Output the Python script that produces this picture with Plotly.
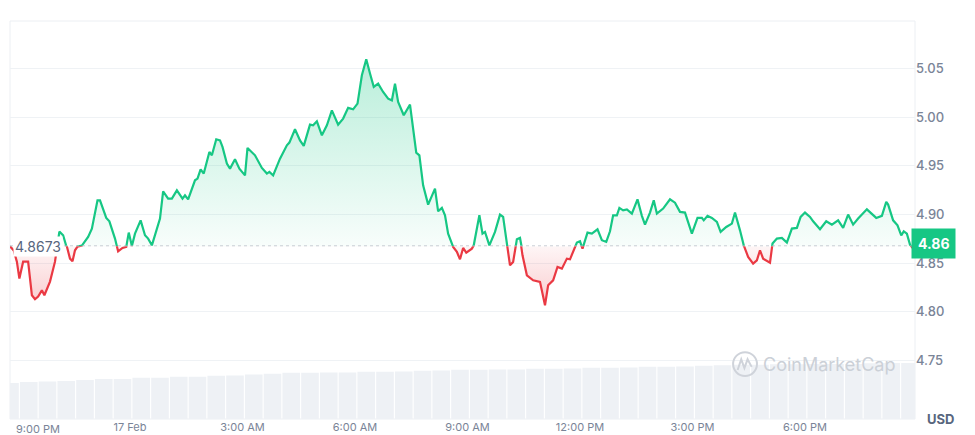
import pandas as pd
import plotly.graph_objects as go

# ---- data ----
START = pd.Timestamp("2025-02-16 20:48")
BASE = 4.8673      # reference (open) price, dotted line
LAST = 4.86        # current price tag

minutes = [0, 6, 11, 15, 21, 29, 35, 40, 45, 51, 55, 64, 72, 76, 79, 85, 91, 96, 100, 104,
           108, 115, 125, 131, 140, 144, 154, 159, 168, 173, 180, 186, 190, 195, 200, 209, 216, 221, 227, 235,
           240, 245, 253, 259, 267, 276, 280, 285, 296, 300, 305, 310, 319, 323, 330, 336, 340, 347, 352, 360,
           367, 376, 380, 392, 403, 411, 415, 421, 432, 443, 447, 456, 464, 470, 480, 485, 491, 499, 507, 515,
           525, 533, 541, 549, 556, 563, 570, 576, 582, 589, 597, 605, 611, 616, 621, 630, 640, 650, 655, 661,
           669, 680, 685, 691, 696, 701, 709, 715, 720, 725, 730, 739, 742, 751, 756, 760, 767, 776, 784, 789,
           795, 800, 805, 811, 816, 820, 827, 837, 848, 856, 861, 869, 876, 883, 891, 896, 907, 912, 916, 924,
           931, 940, 947, 954, 960, 965, 971, 975, 981, 987, 995, 1004, 1011, 1016, 1024, 1030, 1035, 1045, 1056, 1064,
           1072, 1080, 1091, 1100, 1107, 1110, 1116, 1123, 1131, 1137, 1146, 1155, 1160, 1168, 1174, 1181, 1189, 1195, 1200, 1205,
           1216, 1220, 1227, 1235, 1243, 1251, 1259, 1265, 1272, 1280, 1285, 1296, 1306, 1315, 1325, 1333, 1341, 1349, 1357, 1371,
           1379, 1386, 1395, 1402, 1405, 1413, 1420, 1426, 1430, 1435, 1440, 1445]

price = [4.8673, 4.8628, 4.8514, 4.8340, 4.8514, 4.8514, 4.8168, 4.8127, 4.8154, 4.8219,
         4.8168, 4.8309, 4.8514, 4.8700, 4.8823, 4.8785, 4.8669, 4.8545, 4.8518, 4.8631,
         4.8669, 4.8679, 4.8769, 4.8854, 4.9145, 4.9145, 4.8964, 4.8929, 4.8751, 4.8620,
         4.8655, 4.8666, 4.8813, 4.8676, 4.8802, 4.8939, 4.8785, 4.8751, 4.8682, 4.8854,
         4.8957, 4.9238, 4.9163, 4.9163, 4.9248, 4.9163, 4.9197, 4.9155, 4.9351, 4.9368,
         4.9464, 4.9420, 4.9643, 4.9608, 4.9773, 4.9762, 4.9694, 4.9523, 4.9471, 4.9567,
         4.9471, 4.9402, 4.9684, 4.9608, 4.9478, 4.9420, 4.9437, 4.9402, 4.9574, 4.9711,
         4.9739, 4.9876, 4.9762, 4.9705, 4.9924, 4.9917, 4.9958, 4.9814, 4.9917, 5.0071,
         4.9924, 4.9986, 5.0096, 5.0081, 5.0140, 5.0431, 5.0596, 5.0449, 5.0312, 5.0346,
         5.0260, 5.0191, 5.0174, 5.0346, 5.0157, 5.0020, 5.0130, 4.9636, 4.9608, 4.9299,
         4.9101, 4.9265, 4.9032, 4.9067, 4.8991, 4.8802, 4.8666, 4.8614, 4.8538, 4.8655,
         4.8607, 4.8648, 4.8682, 4.8991, 4.8802, 4.8820, 4.8682, 4.8820, 4.8998, 4.8974,
         4.8682, 4.8476, 4.8511, 4.8744, 4.8758, 4.8579, 4.8373, 4.8322, 4.8306, 4.8065,
         4.8271, 4.8322, 4.8460, 4.8442, 4.8545, 4.8538, 4.8710, 4.8723, 4.8648, 4.8813,
         4.8802, 4.8847, 4.8734, 4.8717, 4.8826, 4.8991, 4.8991, 4.9067, 4.9042, 4.9052,
         4.9008, 4.9155, 4.8985, 4.8895, 4.9019, 4.9145, 4.9008, 4.9060, 4.9155, 4.9121,
         4.9026, 4.9019, 4.8802, 4.8964, 4.8964, 4.8939, 4.8985, 4.8964, 4.8923, 4.8820,
         4.8871, 4.8905, 4.9019, 4.8836, 4.8682, 4.8563, 4.8494, 4.8528, 4.8631, 4.8545,
         4.8504, 4.8700, 4.8751, 4.8758, 4.8710, 4.8854, 4.8861, 4.8974, 4.9019, 4.8974,
         4.8929, 4.8847, 4.8929, 4.8895, 4.8939, 4.8861, 4.8998, 4.8895, 4.8957, 4.9052,
         4.9008, 4.8964, 4.8985, 4.9129, 4.9101, 4.8939, 4.8888, 4.8785, 4.8826, 4.8802,
         4.8689, 4.8648]

# volume bars, one every 30 min (USD millions)
vol_minutes = list(range(0, 1441, 30))
volume = [181, 186, 189, 191, 196, 201, 201, 207, 207, 212,
          212, 217, 219, 224, 227, 232, 232, 234, 234, 237,
          237, 239, 242, 244, 247, 247, 249, 249, 252, 252,
          254, 257, 257, 259, 262, 262, 264, 267, 270, 272,
          272, 275, 275, 277, 277, 277, 280, 282, 282]

tick_times = ["2025-02-16 21:00", "2025-02-17 00:00", "2025-02-17 03:00", "2025-02-17 06:00",
              "2025-02-17 09:00", "2025-02-17 12:00", "2025-02-17 15:00", "2025-02-17 18:00"]
tick_text = ["9:00 PM", "17 Feb", "3:00 AM", "6:00 AM", "9:00 AM", "12:00 PM", "3:00 PM", "6:00 PM"]

assert len(minutes) == len(price)
assert len(vol_minutes) == len(volume)

# ---- style ----
GREEN = "#16c784"
RED = "#ea3943"
GRID = "#eff2f5"
LABEL = "#7a8497"
FONT = "Inter, Roboto, sans-serif"

t = START + pd.to_timedelta(minutes, unit="m")
vt = START + pd.to_timedelta(vol_minutes, unit="m")

lo, hi = 4.6895, 5.099
split = (BASE - lo) / (hi - lo)

fig = go.Figure()

fig.add_bar(x=vt, y=volume, yaxis="y2", marker_color="#eef1f5",
            marker_line_width=0, hoverinfo="skip", showlegend=False)

# green half: upper subplot clipped at the baseline
fig.add_scatter(x=t, y=price, yaxis="y", mode="lines", showlegend=False,
                line=dict(color=GREEN, width=2.2), fill="tozeroy",
                fillgradient=dict(type="vertical", start=BASE, stop=5.06,
                                  colorscale=[[0, "rgba(22,199,132,0.03)"],
                                              [1, "rgba(22,199,132,0.30)"]]))

# red half: lower subplot, filled up to the baseline
fig.add_scatter(x=[t[0], t[-1]], y=[BASE, BASE], yaxis="y3", mode="lines",
                line=dict(width=0), hoverinfo="skip", showlegend=False)
fig.add_scatter(x=t, y=price, yaxis="y3", mode="lines", showlegend=False,
                line=dict(color=RED, width=2.2), fill="tonexty",
                fillgradient=dict(type="vertical", start=4.80, stop=BASE,
                                  colorscale=[[0, "rgba(234,57,67,0.28)"],
                                              [1, "rgba(234,57,67,0.05)"]]))

ytick = dict(family=FONT, size=13, color=LABEL, weight=500)
xtick = dict(family=FONT, size=11, color=LABEL)

# page body adds an 8px offset, so the figure is 8px smaller than the window
fig.update_layout(
    width=967, height=427,
    margin=dict(l=2, r=60, t=13, b=16),
    paper_bgcolor="white", plot_bgcolor="rgba(0,0,0,0)",
    font=dict(family=FONT),
    showlegend=False,
    bargap=0.06,
    xaxis=dict(range=[START, START + pd.Timedelta(minutes=1448)], anchor="y3",
               showgrid=False, zeroline=False, showline=False, ticks="",
               tickvals=pd.to_datetime(tick_times[1:]), ticktext=tick_text[1:],
               tickfont=xtick, ticklabelstandoff=0, automargin=False),
    yaxis=dict(domain=[split, 1], range=[BASE, hi], side="right", automargin=False,
               tickvals=[4.90, 4.95, 5.00, 5.05], tickformat=".2f",
               gridcolor=GRID, zeroline=False, ticks="", tickfont=ytick),
    yaxis3=dict(domain=[0, split], range=[lo, BASE], side="right", anchor="x",
                automargin=False, tickvals=[4.75, 4.80, 4.85], tickformat=".2f",
                gridcolor=GRID, zeroline=False, ticks="", tickfont=ytick),
    yaxis2=dict(domain=[0, 0.16], range=[0, 320], anchor="x", visible=False),
)

# first time label is clamped inside the chart, like the original widget
fig.add_annotation(text=tick_text[0], xref="x", x=pd.Timestamp(tick_times[0]),
                   xanchor="left", xshift=-4, yref="paper", y=0, yanchor="top",
                   yshift=-1, showarrow=False, font=xtick)

fig.add_shape(type="rect", xref="paper", yref="paper", x0=0, x1=1, y0=0, y1=1,
              line=dict(color="#eceff3", width=1), layer="below")
fig.add_shape(type="line", xref="paper", x0=0, x1=1, yref="y", y0=BASE, y1=BASE,
              line=dict(color="#b3b9c3", width=1.2, dash="dot"))

# watermark
fig.add_shape(type="circle", xref="paper", yref="paper",
              x0=0.799, x1=0.8254, y0=0.108, y1=0.168,
              line=dict(color="#cfd3da", width=2))
fig.add_shape(type="path", xref="paper", yref="paper",
              path="M 0.804,0.123 L 0.808,0.150 L 0.8115,0.128 L 0.815,0.150 L 0.8195,0.131",
              line=dict(color="#cfd3da", width=2))
fig.add_annotation(text="CoinMarketCap", xref="paper", yref="paper", x=0.906, y=0.136,
                   xanchor="center", yanchor="middle", showarrow=False,
                   font=dict(family=FONT, size=18, color="#cbd0d7"))

# price tags
fig.add_annotation(text="4.8673", xref="paper", x=0, xanchor="left", xshift=3,
                   yref="y", y=BASE, showarrow=False, bgcolor="white", borderpad=1,
                   font=dict(family=FONT, size=14, color="#58667e"))
fig.add_annotation(text="<b>4.86</b>", xref="paper", x=1, xanchor="left", xshift=-4,
                   yref="y3", y=LAST, yshift=10, showarrow=False, bgcolor=GREEN, borderpad=6,
                   font=dict(family=FONT, size=14, color="white"))
fig.add_annotation(text="<b>USD</b>", xref="paper", x=1, xanchor="left", xshift=10,
                   yref="paper", y=0.0, yanchor="middle", showarrow=False,
                   font=dict(family=FONT, size=13, color="#58667e"))

fig.write_html("out.html")
